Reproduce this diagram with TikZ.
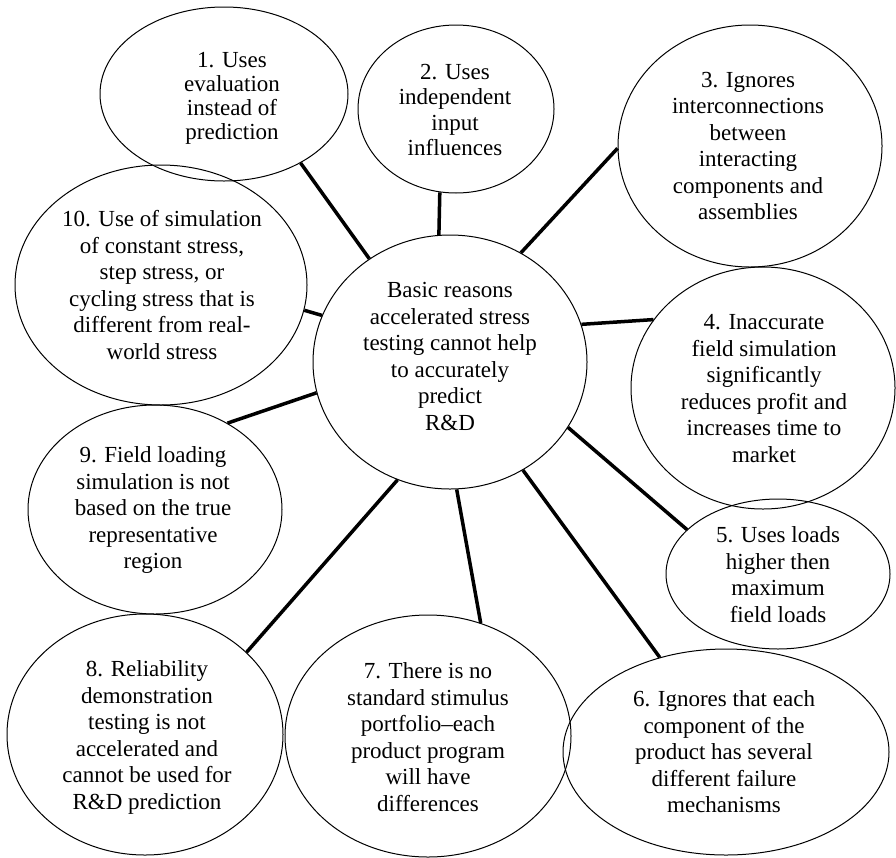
\documentclass[tikz,border=0pt]{standalone}
\usepackage{fontspec}
\setmainfont{Liberation Serif}
\usetikzlibrary{shapes.geometric}

\begin{document}
\begin{tikzpicture}[x=1pt,y=-1pt,
  bubble/.style={draw, ellipse, line width=1pt, inner sep=0pt},
  txt/.style={align=center, inner sep=0pt, font=\fontsize{23}{26.5}\selectfont},
  link/.style={line width=3.5pt}]
\useasboundingbox (0,0) rectangle (896,857);

% outlines of the hub and the ten reasons
\node[bubble, minimum width=274, minimum height=254] (c)   at (450,362) {};
\node[bubble, minimum width=248, minimum height=174] (e1)  at (224,94) {};
\node[bubble, minimum width=196, minimum height=168] (e2)  at (456,109) {};
\node[bubble, minimum width=264, minimum height=242] (e3)  at (750,146) {};
\node[bubble, minimum width=264, minimum height=242] (e4)  at (763,388) {};
\node[bubble, minimum width=224, minimum height=150] (e5)  at (778,574) {};
\node[bubble, minimum width=326, minimum height=206] (e6)  at (726,752) {};
\node[bubble, minimum width=286, minimum height=242] (e7)  at (428,736) {};
\node[bubble, minimum width=276, minimum height=241] (e8)  at (145,734.5) {};
\node[bubble, minimum width=254, minimum height=209] (e9)  at (155,509.5) {};
\node[bubble, minimum width=292, minimum height=240] (e10) at (161,285) {};

% texts
\node[txt] (tc) at (450,356.5) {Basic reasons\\accelerated stress\\testing cannot help\\to accurately\\predict\\R\&D};
\node[txt, font=\fontsize{23}{24}\selectfont] (t1) at (232,98) {1. Uses\\evaluation\\instead of\\prediction};
\node[txt, font=\fontsize{23}{25.3}\selectfont] (t2) at (455,110) {2. Uses\\independent\\input\\influences};
\node[txt] (t3) at (748,146) {3. Ignores\\interconnections\\between\\interacting\\components and\\assemblies};
\node[txt] (t4) at (764,388.5) {4. Inaccurate\\field simulation\\significantly\\reduces profit and\\increases time to\\market};
\node[txt] (t5) at (778,574.5) {5. Uses loads\\higher then\\maximum\\field loads};
\node[txt] (t6) at (724,752) {6. Ignores that each\\component of the\\product has several\\different failure\\mechanisms};
\node[txt] (t7) at (428,737) {7. There is no\\standard stimulus\\portfolio–each\\product program\\will have\\differences};
\node[txt] (t8) at (147,737.5) {8. Reliability\\demonstration\\testing is not\\accelerated and\\cannot be used for\\R\&D prediction};
\node[txt] (t9) at (153,510) {9. Field loading\\simulation is not\\based on the true\\representative\\region};
\node[txt] (t10) at (162,285) {10. Use of simulation\\of constant stress,\\step stress, or\\cycling stress that is\\different from real-\\world stress};

% spokes
\draw[link] (e1.-42)  -- (c.128);
\draw[link] (e2.-101) -- (c.95);
\draw[link] (e3.181)  -- (c.57);
\draw[link] (e4.148)  -- (c.16);
\draw[link] (e5.154)  -- (c.-29);
\draw[link] (e6.125)  -- (c.-56);
\draw[link] (e7.65)   -- (c.-87);
\draw[link] (e8.39)   -- (c.-114);
\draw[link] (e9.50)   -- (c.-167);
\draw[link] (e10.-10) -- (c.160);
\end{tikzpicture}
\end{document}
